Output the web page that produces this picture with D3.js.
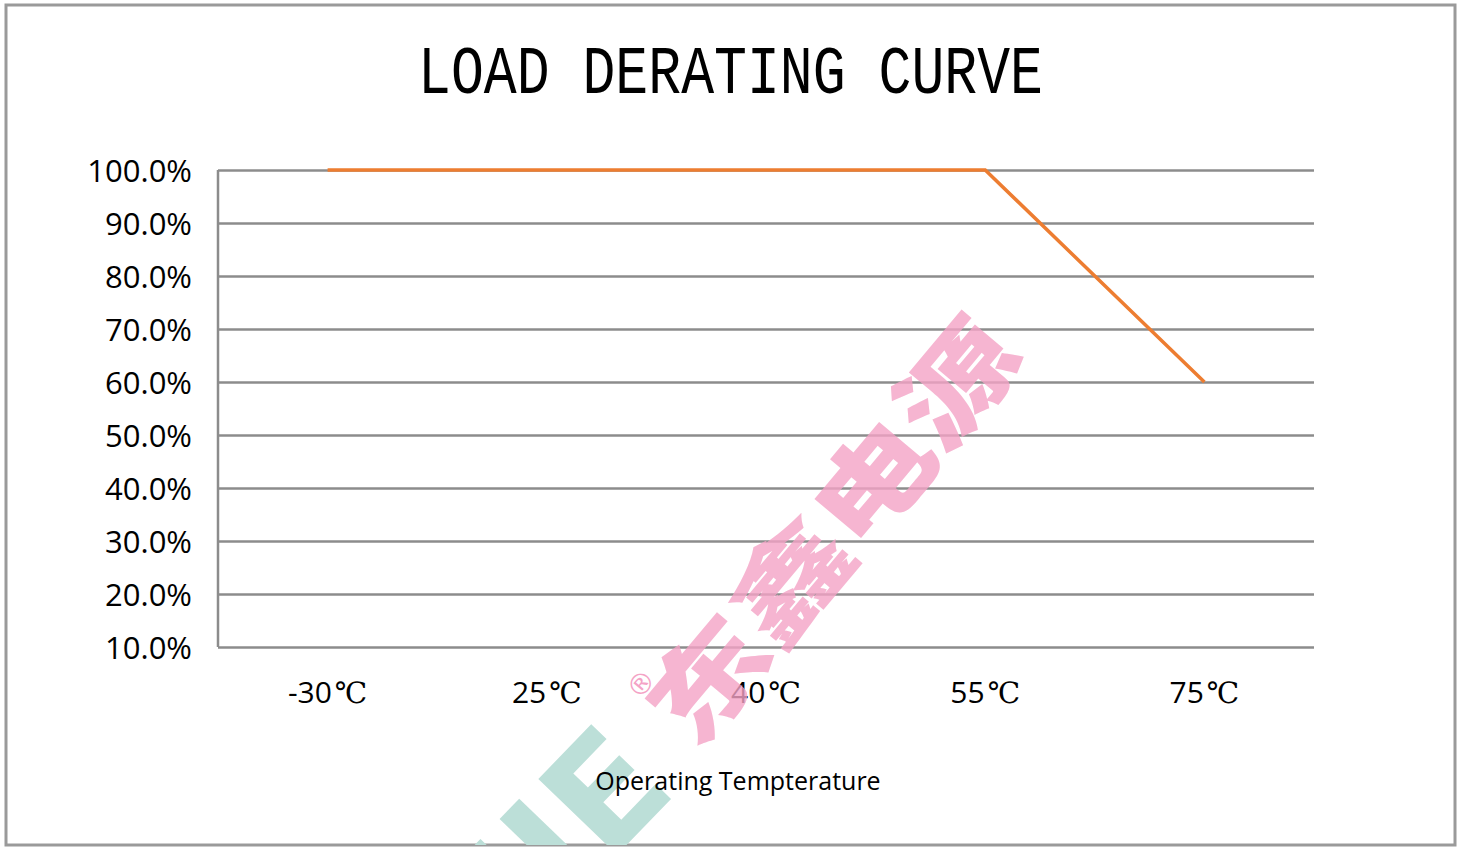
<!DOCTYPE html>
<html>
<head>
<meta charset="utf-8">
<script src="https://cdn.jsdelivr.net/npm/d3@7"></script>
<style>
  body { margin: 0; background: #fff; }
  svg { display: block; }
</style>
</head>
<body>
<svg id="chart" width="1464" height="848"></svg>
<script>
// chart data
const temps = ['-30', '25', '40', '55', '75']
const load = [100, 100, 100, 100, 60]
const yTicks = [10, 20, 30, 40, 50, 60, 70, 80, 90, 100]

const svg = d3.select('#chart')

const margin = { left: 218, right: 1314, top: 170, bottom: 647 }

// outer frame
svg.append('rect')
  .attr('x', 6).attr('y', 5)
  .attr('width', 1449).attr('height', 840)
  .attr('fill', '#fff')
  .attr('stroke', '#9a9a9a')
  .attr('stroke-width', 3)

svg.append('clipPath').attr('id', 'frameClip')
  .append('rect').attr('x', 6).attr('y', 5).attr('width', 1449).attr('height', 840)

// teal watermark sits under the text
svg.append('g')
  .attr('clip-path', 'url(#frameClip)')
  .append('text')
  .attr('transform', 'translate(530,945) rotate(-46)')
  .attr('fill', '#bcdfd8')
  .style('font-family', '"DejaVu Sans", sans-serif')
  .style('font-weight', 700)
  .style('font-size', '150px')
  .text('JIE')

// title
svg.append('text')
  .attr('x', 418).attr('y', 93)
  .attr('textLength', 625)
  .attr('lengthAdjust', 'spacingAndGlyphs')
  .style('font-family', '"Liberation Mono", monospace')
  .style('font-size', '68px')
  .attr('fill', '#000')
  .text('LOAD DERATING CURVE')

const x = d3.scalePoint()
  .domain(temps)
  .range([margin.left, margin.right])
  .padding(0.5)

const y = d3.scaleLinear()
  .domain([10, 100])
  .range([margin.bottom, margin.top])

// gridlines
const yAxis = d3.axisLeft(y)
  .tickValues(yTicks)
  .tickSize(-(margin.right - margin.left))
  .tickFormat(d => d.toFixed(1) + '%')

const gy = svg.append('g')
  .attr('transform', `translate(${margin.left},0)`)
  .call(yAxis)

gy.select('.domain').remove()
gy.selectAll('.tick line')
  .attr('stroke', '#8c8c8c')
  .attr('stroke-width', 2.5)
gy.selectAll('.tick text')
  .attr('x', -26)
  .attr('dy', '0.36em')
  .attr('fill', '#000')
  .style('font-family', '"Open Sans", sans-serif')
  .style('font-size', '31px')

// left axis line
svg.append('line')
  .attr('x1', margin.left).attr('x2', margin.left)
  .attr('y1', margin.top).attr('y2', margin.bottom)
  .attr('stroke', '#8c8c8c')
  .attr('stroke-width', 2.5)

// x labels
const xl = svg.append('g').selectAll('text')
  .data(temps)
  .join('text')
  .attr('x', d => x(d))
  .attr('y', 703)
  .attr('text-anchor', 'middle')
  .attr('fill', '#000')
  .style('font-family', '"Open Sans", sans-serif')
  .style('font-size', '30px')
xl.append('tspan').text(d => d)
xl.append('tspan')
  .attr('dx', 3)
  .style('font-family', '"DejaVu Serif", serif')
  .style('font-size', '29px')
  .text('℃')

// x title
svg.append('text')
  .attr('x', 738).attr('y', 790)
  .attr('text-anchor', 'middle')
  .attr('fill', '#000')
  .style('font-family', '"Open Sans", sans-serif')
  .style('font-size', '25px')
  .text('Operating Tempterature')

// derating line
const line = d3.line()
  .x((d, i) => x(temps[i]))
  .y(d => y(d))

svg.append('path')
  .datum(load)
  .attr('d', line)
  .attr('fill', 'none')
  .attr('stroke', '#ed7d31')
  .attr('stroke-width', 3.5)

// pink watermark
const wm = svg.append('g')
  .attr('clip-path', 'url(#frameClip)')

wm.append('text')
  .attr('transform', 'translate(695,752) rotate(-50)')
  .attr('textLength', 515)
  .attr('lengthAdjust', 'spacingAndGlyphs')
  .attr('fill', '#f4a3c6')
  .attr('opacity', 0.8)
  .style('font-family', '"Noto Sans CJK SC", sans-serif')
  .style('font-weight', 900)
  .style('font-size', '100px')
  .text('东鑫电源')

wm.append('text')
  .attr('transform', 'translate(641,684) rotate(-50)')
  .attr('text-anchor', 'middle')
  .attr('dy', '0.35em')
  .attr('fill', '#f4a3c6')
  .style('font-family', '"DejaVu Sans", sans-serif')
  .style('font-size', '28px')
  .text('®')
</script>
</body>
</html>
